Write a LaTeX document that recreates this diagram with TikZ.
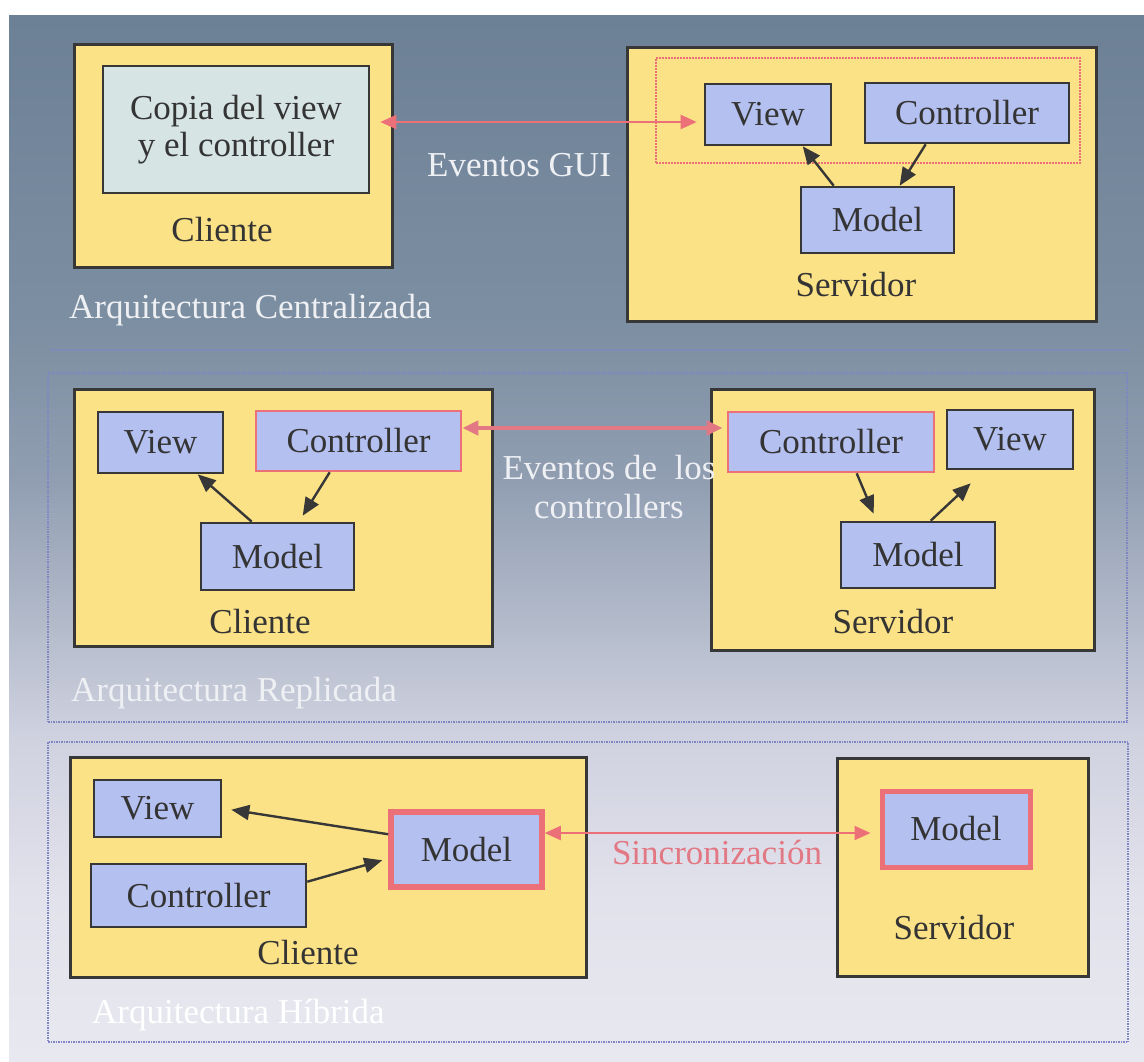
\documentclass[tikz,border=0pt]{standalone}
\usepackage{fontspec}
\setmainfont{Liberation Serif}
\usetikzlibrary{arrows.meta,calc}

% palette
\definecolor{bgA}{RGB}{108,128,150}
\definecolor{bgB}{RGB}{125,143,162}
\definecolor{bgC}{RGB}{145,158,178}
\definecolor{bgD}{RGB}{178,186,202}
\definecolor{bgE}{RGB}{208,210,224}
\definecolor{bgF}{RGB}{226,226,236}
\definecolor{bgG}{RGB}{232,232,240}
\definecolor{edge}{RGB}{55,55,55}
\definecolor{ink}{RGB}{52,52,52}
\definecolor{hostfill}{RGB}{252,226,134}
\definecolor{partfill}{RGB}{180,192,240}
\definecolor{copyfill}{RGB}{214,228,228}
\definecolor{mark}{RGB}{236,112,120}
\definecolor{markdim}{RGB}{226,120,132}
\definecolor{capt}{RGB}{238,240,244}
\definecolor{framec}{RGB}{128,134,196}

% backdrop: dark slate at the top fading to pale lavender at the bottom
\pgfdeclareverticalshading{backfade}{100bp}{%
  color(0bp)=(bgG); color(25bp)=(bgG); color(32.7bp)=(bgF);
  color(40.34bp)=(bgE); color(46.08bp)=(bgD); color(52.77bp)=(bgC);
  color(59.94bp)=(bgB); color(75bp)=(bgA); color(100bp)=(bgA)}

\begin{document}
\begin{tikzpicture}[x=1pt,y=-1pt,
  every node/.style={font=\fontsize{35}{39}\selectfont, text=ink},
  host/.style={draw=edge, line width=3pt, fill=hostfill, inner sep=0pt},
  part/.style={draw=edge, line width=2.6pt, fill=partfill, inner sep=0pt},
  shared/.style={part, draw=mark},
  flow/.style={draw=edge, line width=2.4pt, -{Triangle[length=18pt,width=15pt]}},
  sync/.style={draw=mark, line width=2.2pt,
    {Triangle[length=16pt,width=14pt]}-{Triangle[length=16pt,width=14pt]}},
  caption/.style={text=capt, anchor=west, inner sep=0pt},
  frame/.style={draw=framec, line width=1.5pt, densely dotted, inner sep=0pt}
]
\useasboundingbox (0,0) rectangle (1144,1061);
\fill[white] (0,0) rectangle (1144,1061);
\shade[shading=backfade] (9,15) rectangle (1144,1061);

% ---------- centralised architecture ----------
\draw[framec, line width=1.2pt, opacity=.6] (50,350) -- (1130,350);

\node[host, minimum width=318, minimum height=223] (cl1) at (233,155.5) {};
\node[part, fill=copyfill, minimum width=266, minimum height=127,
      align=center, font=\fontsize{35}{37}\selectfont] (copia) at (236,129.5)
      {Copia del view\\y el controller};
\node (cl1lbl) at (222,230) {Cliente};

\node[host, minimum width=469, minimum height=274] (sv1) at (861.5,184) {};
\node[draw=mark, densely dotted, line width=2pt, inner sep=0pt,
      minimum width=424, minimum height=105] (gui) at (868,110.5) {};
\node[part, minimum width=126, minimum height=61] (v1) at (768,114.5) {View};
\node[part, minimum width=204, minimum height=60] (c1) at (967,113) {Controller};
\node[part, minimum width=153, minimum height=66] (m1) at (877.5,220) {Model};
\node (sv1lbl) at (856,285) {Servidor};
\draw[flow] ([xshift=34pt]m1.north west) -- ([xshift=99pt]v1.south west);
\draw[flow] ([xshift=62pt]c1.south west) -- ([xshift=100pt]m1.north west);

\coordinate (gy) at (0,122);
\draw[sync, shorten <=10pt, shorten >=7pt] (copia.east |- gy) -- (v1.west |- gy);
\node[caption] (g1lbl) at (427,165) {Eventos GUI};
\node[caption] (t1) at (69,310) {Arquitectura Centralizada};

% ---------- replicated architecture ----------
\node[frame, minimum width=1079, minimum height=349] (f2) at (587.5,547.5) {};

\node[host, minimum width=418, minimum height=257] (cl2) at (283,517.5) {};
\node[part, minimum width=125, minimum height=61] (v2) at (160.5,442.5) {View};
\node[shared, minimum width=205, minimum height=60] (c2) at (358.5,441) {Controller};
\node[part, minimum width=153, minimum height=67] (m2) at (277.5,556.5) {Model};
\node (cl2lbl) at (260,622) {Cliente};
\draw[flow] ([xshift=52pt]m2.north west) -- ([xshift=101pt]v2.south west);
\draw[flow] ([xshift=75pt]c2.south west) -- ([xshift=103pt,yshift=6pt]m2.north west);

\node[host, minimum width=383, minimum height=261] (sv2) at (902.5,519.5) {};
\node[shared, minimum width=206, minimum height=60] (c3) at (831,442) {Controller};
\node[part, minimum width=126, minimum height=59] (v3) at (1010,439.5) {View};
\node[part, minimum width=154, minimum height=66] (m3) at (918,555) {Model};
\node (sv2lbl) at (893,622) {Servidor};
\draw[flow] ([xshift=130pt]c3.south west) -- ([xshift=34pt,yshift=7pt]m3.north west);
\draw[flow] ([xshift=91pt]m3.north west) -- ([xshift=25pt,yshift=-13pt]v3.south west);

\coordinate (ey) at (0,428);
\draw[sync, draw=markdim, line width=4pt, shorten >=4pt] (c2.east |- ey) -- (c3.west |- ey);
\node[text=capt, align=center, inner sep=0pt] (e2lbl) at (609,487.5)
      {Eventos de~ los\\controllers};
\node[caption] (t2) at (71,693) {Arquitectura Replicada};

% ---------- hybrid architecture ----------
\node[frame, minimum width=1080, minimum height=300] (f3) at (588,892) {};

\node[host, minimum width=516, minimum height=220] (cl3) at (328,867) {};
\node[part, minimum width=127, minimum height=57] (v4) at (157.5,808.5) {View};
\node[part, minimum width=215, minimum height=63] (c4) at (198.5,895.5) {Controller};
\node[part, draw=mark, line width=5.5pt, minimum width=151, minimum height=75] (m4) at (466.5,849.5) {Model};
\node (cl3lbl) at (308,953) {Cliente};
\draw[flow] ([yshift=-25pt]m4.north west) -- ([xshift=9pt,yshift=-31pt]v4.north east);
\draw[flow] ([yshift=-19pt]c4.north east) -- ([xshift=-6pt,yshift=-51pt]m4.north west);

\node[host, minimum width=251, minimum height=218] (sv3) at (962.5,867) {};
\node[part, draw=mark, line width=5pt, minimum width=148, minimum height=76] (m5) at (956,829) {Model};
\node (sv3lbl) at (954,928) {Servidor};

\coordinate (sy) at (0,833);
\draw[sync, shorten >=9pt] (m4.east |- sy) -- (m5.west |- sy);
\node[text=markdim, inner sep=0pt] (s3lbl) at (717,852) {Sincronización};
\node[caption, text=white] (t3) at (92,1015) {Arquitectura Híbrida};
\end{tikzpicture}
\end{document}
